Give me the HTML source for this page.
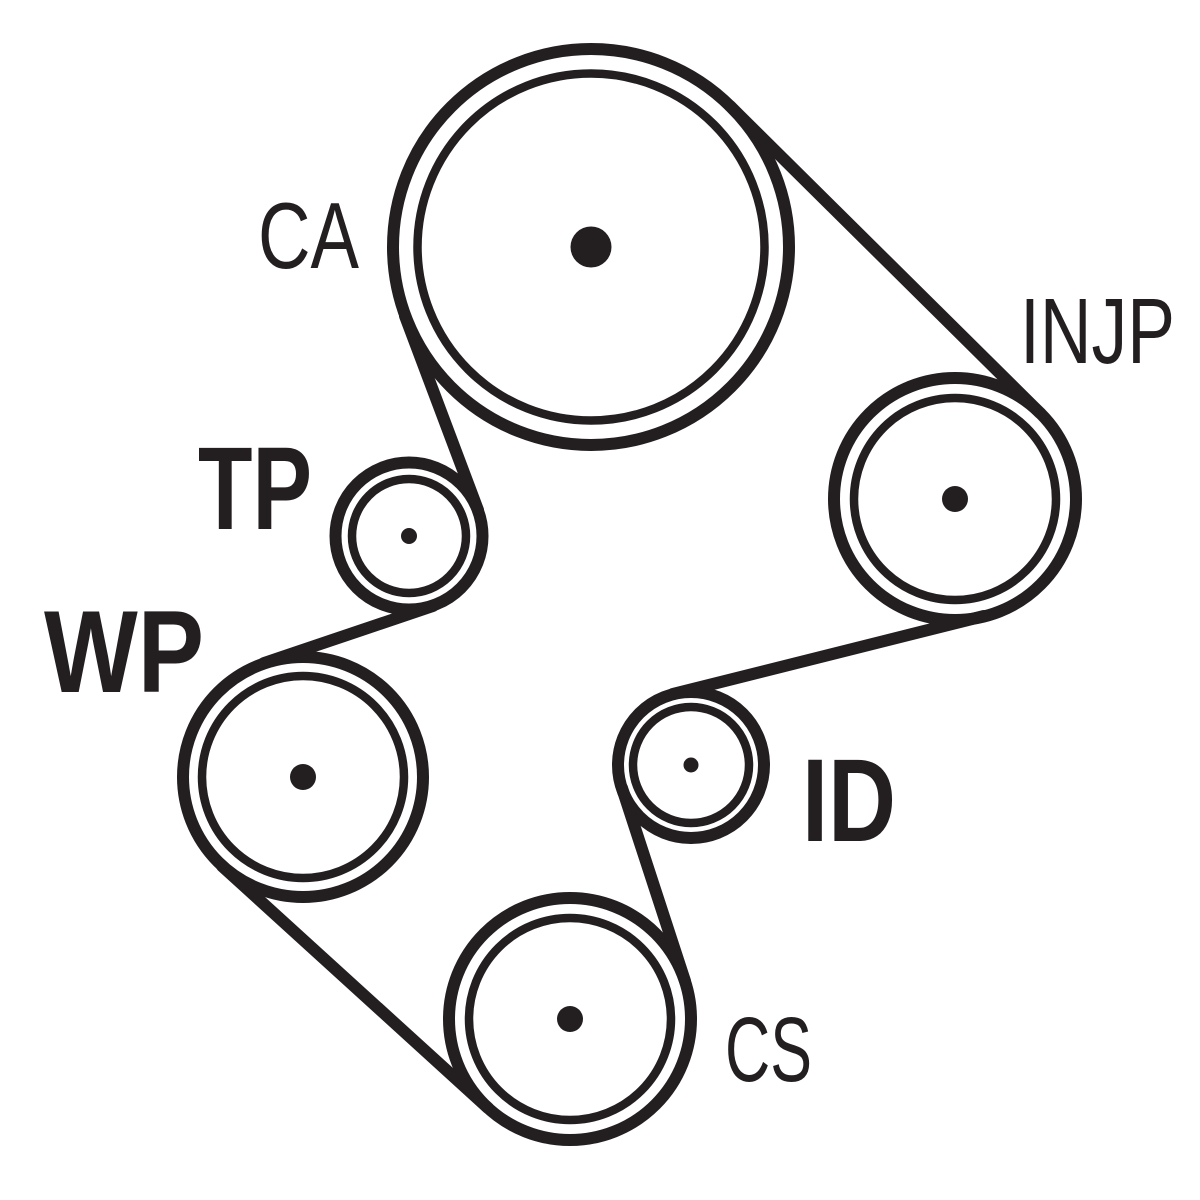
<!DOCTYPE html>
<html><head><meta charset="utf-8"><style>html,body{margin:0;padding:0;background:#fff}svg{display:block}</style></head>
<body>
<svg width="1200" height="1200" viewBox="0 0 1200 1200" xmlns="http://www.w3.org/2000/svg">
<rect width="1200" height="1200" fill="#fff"/>
<g fill="none" stroke="#231f20" stroke-linecap="round">
  <!-- belt circles -->
  <g stroke-width="12">
    <circle cx="591" cy="247" r="198"/>
    <circle cx="955" cy="499" r="121"/>
    <circle cx="691" cy="765" r="73"/>
    <circle cx="570" cy="1019" r="121"/>
    <circle cx="303" cy="777" r="120"/>
    <circle cx="409" cy="536" r="73.5"/>
    <line x1="730" y1="106" x2="1040" y2="413"/>
    <line x1="984" y1="616" x2="673" y2="694"/>
    <line x1="622" y1="788" x2="685" y2="981"/>
    <line x1="488" y1="1108" x2="222" y2="866"/>
    <line x1="264" y1="663" x2="433" y2="606"/>
    <line x1="478" y1="510" x2="405" y2="316"/>
  </g>
  <!-- inner rings -->
  <g stroke-width="8.5">
    <circle cx="591" cy="247" r="173.5"/>
    <circle cx="955" cy="499" r="101"/>
    <circle cx="691" cy="765" r="58"/>
    <circle cx="570" cy="1019" r="101"/>
    <circle cx="303" cy="777" r="101"/>
    <circle cx="409" cy="536" r="57"/>
  </g>
</g>
<g fill="#231f20">
  <circle cx="591" cy="247" r="20.5"/>
  <circle cx="955" cy="499" r="13"/>
  <circle cx="691" cy="765" r="7.5"/>
  <circle cx="570" cy="1019" r="13"/>
  <circle cx="303" cy="777" r="13"/>
  <circle cx="409" cy="536" r="8"/>
</g>
<g fill="#231f20" font-family="'Liberation Sans', sans-serif">
  <text x="258" y="268" font-size="94" textLength="101" lengthAdjust="spacingAndGlyphs">CA</text>
  <text x="1020" y="363" font-size="93" textLength="155" lengthAdjust="spacingAndGlyphs">INJP</text>
  <text x="725" y="1081" font-size="92" textLength="87" lengthAdjust="spacingAndGlyphs">CS</text>
  <text x="198" y="529" font-size="118" font-weight="bold" textLength="114" lengthAdjust="spacingAndGlyphs">TP</text>
  <text x="44" y="692" font-size="117" font-weight="bold" textLength="160" lengthAdjust="spacingAndGlyphs">WP</text>
  <text x="802" y="841" font-size="118" font-weight="bold" textLength="94" lengthAdjust="spacingAndGlyphs">ID</text>
</g>
</svg>
</body></html>
